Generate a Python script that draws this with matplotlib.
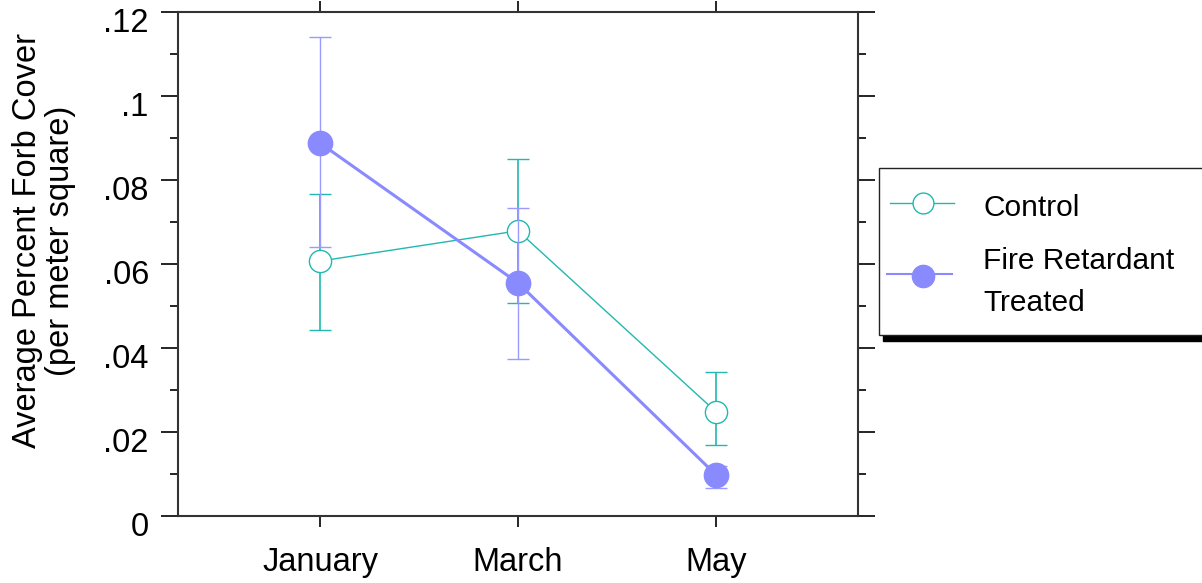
import numpy as np
import matplotlib.pyplot as plt
from matplotlib.patches import Rectangle
from matplotlib.lines import Line2D
from matplotlib.transforms import ScaledTranslation

months = ["January", "March", "May"]
control = [0.0607, 0.0679, 0.0248]
control_hi = [0.0767, 0.0850, 0.0343]
control_lo = [0.0443, 0.0507, 0.0169]
treated = [0.0888, 0.0555, 0.0098]
treated_hi = [0.1140, 0.0733, 0.0120]
treated_lo = [0.0640, 0.0374, 0.0067]
ytick_vals = [0, 0.02, 0.04, 0.06, 0.08, 0.10, 0.12]
ytick_labels = ["0", ".02", ".04", ".06", ".08", ".1", ".12"]
legend_labels = ["Control", "Fire Retardant", "Treated"]

teal = "#22b8b0"
purple = "#8a8aff"

plt.rcParams['font.family'] = ['Liberation Sans', 'DejaVu Sans']

W, H = 1202, 583
fig = plt.figure(figsize=(W / 100, H / 100), dpi=100)
ax = fig.add_axes([178 / W, 1 - 516 / H, 680 / W, 504 / H])

x = np.arange(1, len(months) + 1)
c = np.array(control)
t = np.array(treated)

ax.errorbar(x, c, yerr=[c - np.array(control_lo), np.array(control_hi) - c],
            color=teal, lw=1, marker='o', ms=16, mfc='white', mec=teal, mew=1,
            ecolor=teal, elinewidth=1.2, capsize=8, capthick=1.2, zorder=3)
ax.errorbar(x, t, yerr=[t - np.array(treated_lo), np.array(treated_hi) - t],
            color=purple, lw=2.2, marker='o', ms=17.5, mfc=purple, mec=purple,
            ecolor='#9a9aff', elinewidth=1, capsize=8, capthick=1, zorder=4)

ax.set_xlim(0.283, 3.717)
ax.set_ylim(0, 0.12)
ax.set_xticks(x)
ax.set_xticklabels(months, fontsize=23.5)
ax.set_yticks(ytick_vals)
ax.set_yticklabels(ytick_labels, fontsize=23.5)
ax.set_yticks(np.arange(0.01, 0.12, 0.02), minor=True)

for s in ax.spines.values():
    s.set_linewidth(1.5)
    s.set_color('#333333')

ax.tick_params(axis='x', which='major', direction='out', length=8, width=1.2,
               top=True, bottom=True, pad=14)
ax.tick_params(axis='y', which='major', direction='out', length=12, width=1.2,
               left=True, right=True, pad=9)
ax.tick_params(axis='y', which='minor', direction='out', length=6, width=1.2,
               left=True, right=True)

# y tick labels sit a little below their ticks in the original
shift = ScaledTranslation(0, -8 / 100, fig.dpi_scale_trans)
for lab in ax.get_yticklabels():
    lab.set_transform(lab.get_transform() + shift)

fig.text(44 / W, 1 - 241 / H, "Average Percent Forb Cover\n(per meter square)",
         rotation=90, ha='center', va='center', multialignment='center',
         fontsize=23.5, linespacing=1.1)

# legend, drawn by hand: box with heavy shadow
fig.patches.append(Rectangle((883 / W, 1 - 341 / H), 330 / W, 8 / H,
                             transform=fig.transFigure, color='black', zorder=1))
fig.patches.append(Rectangle((879 / W, 1 - 335 / H), 340 / W, 167 / H,
                             transform=fig.transFigure, facecolor='white',
                             edgecolor='#222222', lw=1, zorder=2))
fig.add_artist(Line2D([890 / W, 954 / W], [1 - 203 / H] * 2, color=teal, lw=1,
                      transform=fig.transFigure, zorder=3))
fig.add_artist(Line2D([923 / W], [1 - 203 / H], marker='o', ms=15, mfc='white',
                      mec=teal, mew=1, transform=fig.transFigure, zorder=4))
fig.add_artist(Line2D([887 / W, 952 / W], [1 - 274 / H] * 2, color=purple, lw=1.5,
                      transform=fig.transFigure, zorder=3))
fig.add_artist(Line2D([923 / W], [1 - 276 / H], marker='o', ms=16, mfc=purple,
                      mec=purple, transform=fig.transFigure, zorder=4))
for lab, base in zip(legend_labels, [216, 269, 311]):
    fig.text(983 / W, 1 - base / H, lab, fontsize=21.5, va='baseline',
             ha='left', zorder=5)

fig.savefig("out.png", dpi=100)
